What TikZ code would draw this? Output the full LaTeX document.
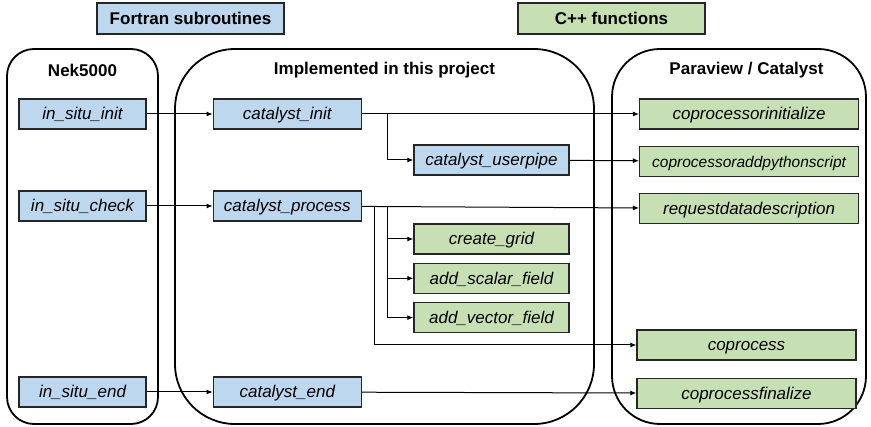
\documentclass[tikz,border=0pt]{standalone}
\usepackage{fontspec}
\setmainfont{Liberation Sans}
\usetikzlibrary{arrows.meta,positioning,calc}
\definecolor{fortblue}{RGB}{189,215,238}
\definecolor{cppgreen}{RGB}{198,224,180}

\begin{document}
\begin{tikzpicture}[
  x=1pt, y=-1pt,
  font=\fontsize{17}{20}\selectfont,
  fbox/.style={draw=black!85, line width=1.3pt, fill=fortblue, inner sep=0pt, minimum height=30pt, text height=15.2pt, text depth=3.6pt, font=\fontsize{17}{20}\selectfont\itshape},
  cbox/.style={fbox, fill=cppgreen},
  legend/.style={fbox, minimum width=187pt, minimum height=31pt, font=\fontsize{17}{20}\selectfont\bfseries},
  group/.style={draw, line width=1.8pt, inner sep=0pt},
  head/.style={font=\fontsize{17}{20}\selectfont\bfseries},
  arr/.style={-{Latex[length=6pt,width=5pt]}, line width=1pt}
]
\useasboundingbox (0,0) rectangle (871,427);

% legend
\node[legend] (fortran) at (190.5,18.5) {Fortran subroutines};
\node[legend, fill=cppgreen] (cpp) at (611.5,18.5) {C++ functions};

% the three groups
\node[group, minimum width=151pt, minimum height=375pt, rounded corners=27pt] (nek) at (82.5,236.5) {};
\node[group, minimum width=419pt, minimum height=375pt, rounded corners=60pt] (impl) at (384.5,236.5) {};
\node[group, minimum width=254pt, minimum height=375pt, rounded corners=48pt] (pv) at (739,236.5) {};
\node[head] (nektitle) at (82.5,70) {Nek5000};
\node[head] (impltitle) at (384.5,70) {Implemented in this project};
\node[head] (pvtitle) at (746.5,70) {Paraview / Catalyst};

% Nek5000
\node[fbox, minimum width=127pt] (sitinit) at (82.5,114) {in\_situ\_init};
\node[fbox, minimum width=127pt] (sitcheck) at (82.5,206) {in\_situ\_check};
\node[fbox, minimum width=127pt] (sitend) at (82.5,392) {in\_situ\_end};

% this project
\node[fbox, minimum width=148pt, right=66pt of sitinit] (catinit) {catalyst\_init};
\node[fbox, minimum width=148pt, right=66pt of sitcheck] (catproc) {catalyst\_process};
\node[fbox, minimum width=148pt, right=66pt of sitend] (catend) {catalyst\_end};
\node[fbox, minimum width=155pt] (userpipe) at (491.5,160) {catalyst\_userpipe};
\node[cbox, minimum width=155pt] (grid) at (491.5,239) {create\_grid};
\node[cbox, minimum width=155pt, below=8pt of grid] (scalar) {add\_scalar\_field};
\node[cbox, minimum width=155pt, below=8pt of scalar] (vector) {add\_vector\_field};

% Paraview / Catalyst
\node[cbox, minimum width=219pt, right=277pt of catinit] (coinit) {coprocessorinitialize};
\node[cbox, minimum width=219pt, below=16pt of coinit, font=\fontsize{15.5}{18}\selectfont\itshape] (coaddpy) {coprocessoraddpythonscript};
\node[cbox, minimum width=219pt, below=16pt of coaddpy] (coreq) {requestdatadescription};
\node[cbox, minimum width=219pt] (copro) at (746.5,345) {coprocess};
\node[cbox, minimum width=219pt, below=17pt of copro] (cofin) {coprocessfinalize};

% branch points
\coordinate (brinit) at (387,114);
\coordinate (brproc) at (387,206);
\coordinate (brcopro) at (374,206);

% calls
\draw[arr] (sitinit) -- (catinit);
\draw[arr] (catinit) -- (coinit);
\draw[arr] (brinit) |- (userpipe);
\draw[arr] (userpipe) -- (coaddpy);
\draw[arr] (sitcheck) -- (catproc);
\draw[arr] (catproc) -- (coreq);
\draw[arr] (brproc) |- (grid);
\draw[arr] (brproc) |- (scalar);
\draw[arr] (brproc) |- (vector);
\draw[arr] (brcopro) |- (copro);
\draw[arr] (sitend) -- (catend);
\draw[arr] (catend) -- (cofin);
\end{tikzpicture}
\end{document}
